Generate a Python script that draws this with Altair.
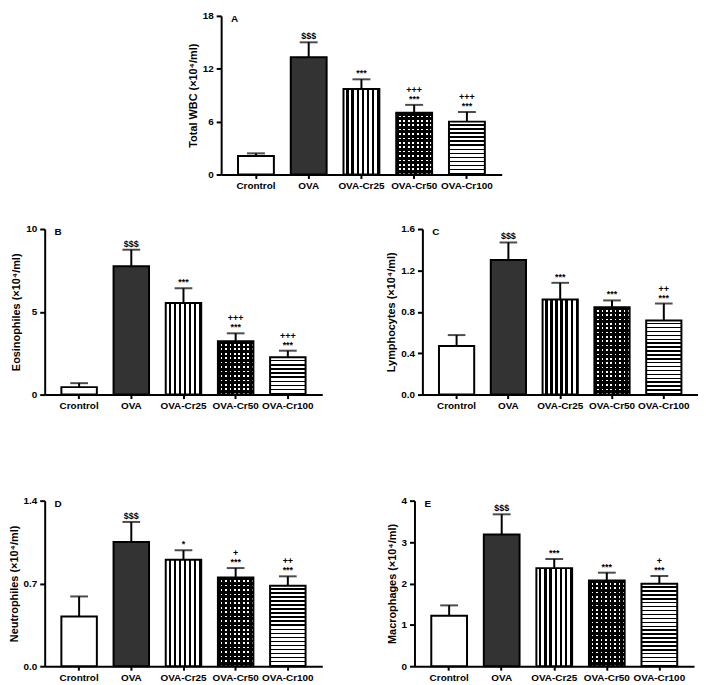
import altair as alt
import pandas as pd

cats = ["Crontrol", "OVA", "OVA-Cr25", "OVA-Cr50", "OVA-Cr100"]

# Panel A - Total WBC
a_mean = [2.1, 13.3, 9.7, 7.0, 6.0]
a_sem = [0.3, 1.7, 1.1, 0.9, 1.1]
a_top = ["", "", "", "+++", "+++"]
a_bot = ["", "$$$", "***", "***", "***"]
a_ticks = [0, 6, 12, 18]

# Panel B - Eosinophiles
b_mean = [0.45, 7.75, 5.53, 3.22, 2.25]
b_sem = [0.24, 1.0, 0.89, 0.48, 0.4]
b_top = ["", "", "", "+++", "+++"]
b_bot = ["", "$$$", "***", "***", "***"]
b_ticks = [0, 5, 10]

# Panel C - Lymphocytes
c_mean = [0.47, 1.30, 0.92, 0.845, 0.715]
c_sem = [0.105, 0.17, 0.16, 0.065, 0.165]
c_top = ["", "", "", "", "++"]
c_bot = ["", "$$$", "***", "***", "***"]
c_ticks = [0.0, 0.4, 0.8, 1.2, 1.6]

# Panel D - Neutrophiles
d_mean = [0.42, 1.05, 0.90, 0.75, 0.68]
d_sem = [0.17, 0.17, 0.08, 0.08, 0.08]
d_top = ["", "", "", "+", "++"]
d_bot = ["", "$$$", "*", "***", "***"]
d_ticks = [0.0, 0.7, 1.4]

# Panel E - Macrophages
e_mean = [1.22, 3.18, 2.37, 2.07, 1.99]
e_sem = [0.25, 0.49, 0.22, 0.19, 0.19]
e_top = ["", "", "", "", "+"]
e_bot = ["", "$$$", "***", "***", "***"]
e_ticks = [0, 1, 2, 3, 4]

FONT = "Liberation Sans"
P_IN, P_OUT = 0.32, 0.32


def stripes(n, frac_a, color_a, color_b, vertical):
    stops = []
    for i in range(n):
        s = i / n
        m = (i + frac_a) / n
        e = (i + 1) / n
        stops += [{"offset": s, "color": color_a}, {"offset": m, "color": color_a},
                  {"offset": m, "color": color_b}, {"offset": e, "color": color_b}]
    g = {"gradient": "linear", "stops": stops}
    if vertical:
        g.update({"x1": 0, "x2": 1, "y1": 0, "y2": 0})
    else:
        g.update({"x1": 0, "x2": 0, "y1": 0, "y2": 1})
    return g


def panel(letter, means, sems, top, bot, ticks, fmt, title, width, height):
    ymax = ticks[-1]
    df = pd.DataFrame({"cat": cats, "mean": means, "sem": sems, "top": top, "bot": bot})
    df["upper"] = df["mean"] + df["sem"]
    step = width / (len(cats) - P_IN + 2 * P_OUT)
    bw = step * (1 - P_IN)

    xenc = alt.X("cat:N", scale=alt.Scale(domain=cats, paddingInner=P_IN, paddingOuter=P_OUT),
                 axis=alt.Axis(title=None, labelAngle=0, labelFontSize=10, tickSize=4,
                               labelPadding=2))
    yaxis = alt.Axis(values=ticks, format=fmt, title=title, titleFontSize=11,
                     labelFontSize=10, tickSize=5, labelPadding=3, titlePadding=4)
    yscale = alt.Scale(domain=[0, ymax], nice=False, zero=True)

    def ym(field):
        return alt.Y(field, scale=yscale, axis=yaxis)

    base = alt.Chart(df)
    layers = []

    def bar(cat, fill, stroke=True):
        kw = dict(fill=fill)
        if stroke:
            kw.update(stroke="black", strokeWidth=2)
        else:
            kw.update(strokeWidth=0)
        return base.transform_filter(alt.datum.cat == cat).mark_bar(**kw).encode(x=xenc, y=ym("mean:Q"))

    layers.append(bar(cats[0], "white"))
    layers.append(bar(cats[1], "#333333"))
    nv = max(1, round(bw / 5.2))
    layers.append(bar(cats[2], stripes(nv, 0.55, "white", "black", True)))
    nd = max(1, round(bw / 4.5))
    h50 = means[3] / ymax * height
    nh50 = max(1, round(h50 / 4.4))
    layers.append(bar(cats[3], stripes(nd, 0.62, "black", "white", True), stroke=False))
    layers.append(bar(cats[3], stripes(nh50, 0.62, "black", "rgba(0,0,0,0)", False)))
    h100 = means[4] / ymax * height
    nh = max(1, round(h100 / 4.0))
    layers.append(bar(cats[4], stripes(nh, 0.62, "white", "black", False)))

    layers.append(base.mark_rule(color="black", strokeWidth=2).encode(
        x=xenc, y=ym("mean:Q"), y2="upper:Q"))
    layers.append(base.mark_tick(color="black", thickness=2, size=bw * 0.5).encode(
        x=xenc, y=ym("upper:Q")))
    txt = dict(font=FONT, fontWeight="bold", fontSize=9, baseline="bottom", color="black")
    layers.append(base.mark_text(dy=-1, **txt).encode(x=xenc, y=ym("upper:Q"), text="bot:N"))
    layers.append(base.mark_text(dy=-10, **txt).encode(x=xenc, y=ym("upper:Q"), text="top:N"))
    layers.append(alt.Chart(pd.DataFrame({"t": [letter]})).mark_text(
        font=FONT, fontWeight="bold", fontSize=10, align="left", baseline="top", color="black").encode(
        x=alt.value(10), y=alt.value(-2), text="t:N"))

    return alt.layer(*layers).properties(width=width, height=height)


H = 167
pa = panel("A", a_mean, a_sem, a_top, a_bot, a_ticks, "d", "Total WBC (×10⁴/ml)", 283, 160)
pb = panel("B", b_mean, b_sem, b_top, b_bot, b_ticks, "d", "Eosinophiles (×10⁴/ml)", 280, H)
pc = panel("C", c_mean, c_sem, c_top, c_bot, c_ticks, ".1f", "Lymphocytes (×10⁴/ml)", 278, H)
pd_ = panel("D", d_mean, d_sem, d_top, d_bot, d_ticks, ".1f", "Neutrophiles (×10⁴/ml)", 280, H)
pe = panel("E", e_mean, e_sem, e_top, e_bot, e_ticks, "d", "Macrophages (×10⁴/ml)", 282, H)

spacer = alt.Chart(pd.DataFrame({"v": [0]})).mark_rule(opacity=0).encode(
    x=alt.value(0), y=alt.value(0), y2=alt.value(1)).properties(width=143, height=10)

toprow = alt.hconcat(spacer, pa, spacing=0)
mid = alt.hconcat(pb, pc, spacing=64)
bot = alt.hconcat(pd_, pe, spacing=64)

chart = alt.vconcat(toprow, alt.vconcat(mid, bot, spacing=85), spacing=33).properties(
    padding={"left": 0, "top": 0, "right": 0, "bottom": 0}
).configure_view(stroke=None).configure_axis(
    grid=False, domainColor="black", domainWidth=2, tickColor="black", tickWidth=2,
    labelFont=FONT, labelFontWeight="bold", labelColor="black",
    titleFont=FONT, titleFontWeight="bold", titleColor="black"
)

chart.save("out.html", embed_options={"renderer": "svg", "actions": False})
